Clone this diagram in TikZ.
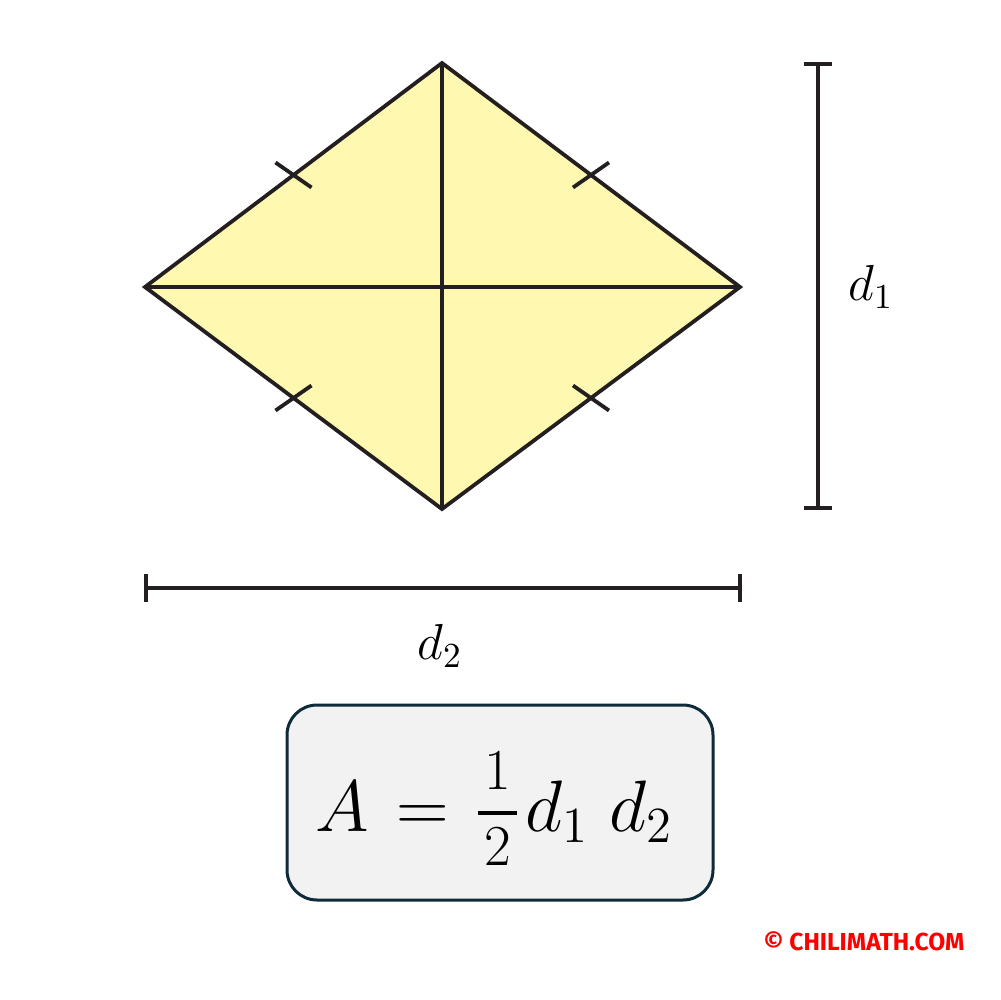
\documentclass[tikz,border=0pt]{standalone}
\usepackage{fontspec}
\usepackage{amsmath}
\newfontfamily\wmfont{Fira Sans}
\usetikzlibrary{calc}
\definecolor{rhfill}{HTML}{FFF8B0}
\definecolor{ink}{HTML}{231F20}
\definecolor{boxfill}{HTML}{F2F2F2}
\definecolor{boxdraw}{HTML}{0F2A38}
\definecolor{wmred}{HTML}{FF0000}
\newcommand{\fracdigit}[1]{\mbox{\fontsize{16.5}{20}\selectfont\hspace{1.8pt}#1\hspace{1.8pt}}}
\tikzset{
  edge/.style={draw=ink, line width=0.38mm, line join=miter},
  tickmark/.style={draw=ink, line width=0.38mm},
  dimline/.style={draw=ink, line width=0.45mm},
  dimlabel/.style={inner sep=0pt, font=\fontsize{14.5}{17}\selectfont},
  formulabox/.style={draw=boxdraw, fill=boxfill, line width=0.3mm, rounded corners=3mm},
  wm/.style={inner sep=0pt, text=wmred, font=\wmfont\bfseries\fontsize{7}{8}\selectfont}
}
\begin{document}
\begin{tikzpicture}[x=0.1mm, y=-0.1mm]
\useasboundingbox (0,0) rectangle (1000,1000);
% vertices
\coordinate (T) at (442,63);
\coordinate (R) at (740,287);
\coordinate (B) at (442,509);
\coordinate (L) at (145,287);
\coordinate (O) at (442,287);
% rhombus
\fill[rhfill] (T) -- (R) -- (B) -- (L) -- cycle;
\draw[edge] (T) -- (B);
\draw[edge] (L) -- (R);
\draw[edge] (T) -- (R) -- (B) -- (L) -- cycle;
% ticks
\coordinate (mTL) at ($(L)!0.5!(T)$);
\coordinate (mTR) at ($(T)!0.5!(R)$);
\coordinate (mBL) at ($(L)!0.5!(B)$);
\coordinate (mBR) at ($(B)!0.5!(R)$);
\draw[tickmark] ($(mTL)+(-18,-12.5)$) -- ($(mTL)+(18,12.5)$);
\draw[tickmark] ($(mTR)+(-18,12.5)$) -- ($(mTR)+(18,-12.5)$);
\draw[tickmark] ($(mBL)+(-18,12.5)$) -- ($(mBL)+(18,-12.5)$);
\draw[tickmark] ($(mBR)+(-18,-12.5)$) -- ($(mBR)+(18,12.5)$);
% vertical dimension
\coordinate (v1) at (818,64);
\coordinate (v2) at (818,508);
\draw[dimline] (v1) -- (v2);
\draw[dimline] ($(v1)+(-14,0)$) -- ($(v1)+(14,0)$);
\draw[dimline] ($(v2)+(-14,0)$) -- ($(v2)+(14,0)$);
\node[dimlabel] (d1) at (871,287) {$d_1$};
% horizontal dimension
\coordinate (h1) at (146,588);
\coordinate (h2) at (740,588);
\draw[dimline] (h1) -- (h2);
\draw[dimline] ($(h1)+(0,-14)$) -- ($(h1)+(0,14)$);
\draw[dimline] ($(h2)+(0,-14)$) -- ($(h2)+(0,14)$);
\node[dimlabel] (d2) at (440,646) {$d_2$};
% formula box
\draw[formulabox] (287,705) rectangle (713,900);
\node[inner sep=0pt, font=\fontsize{21.6}{26}\selectfont] (F) at (494,808)
  {$A\mkern2mu=\mkern1mu\genfrac{}{}{1.2pt}{1}{\rule[-5pt]{0pt}{0pt}\fracdigit{1}}{\rule{0pt}{13pt}\fracdigit{2}}\mkern1mu d_1\mkern5mu d_2$};
% watermark
\node[wm] (W) at (864,941) {© CHILIMATH.COM};
\end{tikzpicture}
\end{document}
